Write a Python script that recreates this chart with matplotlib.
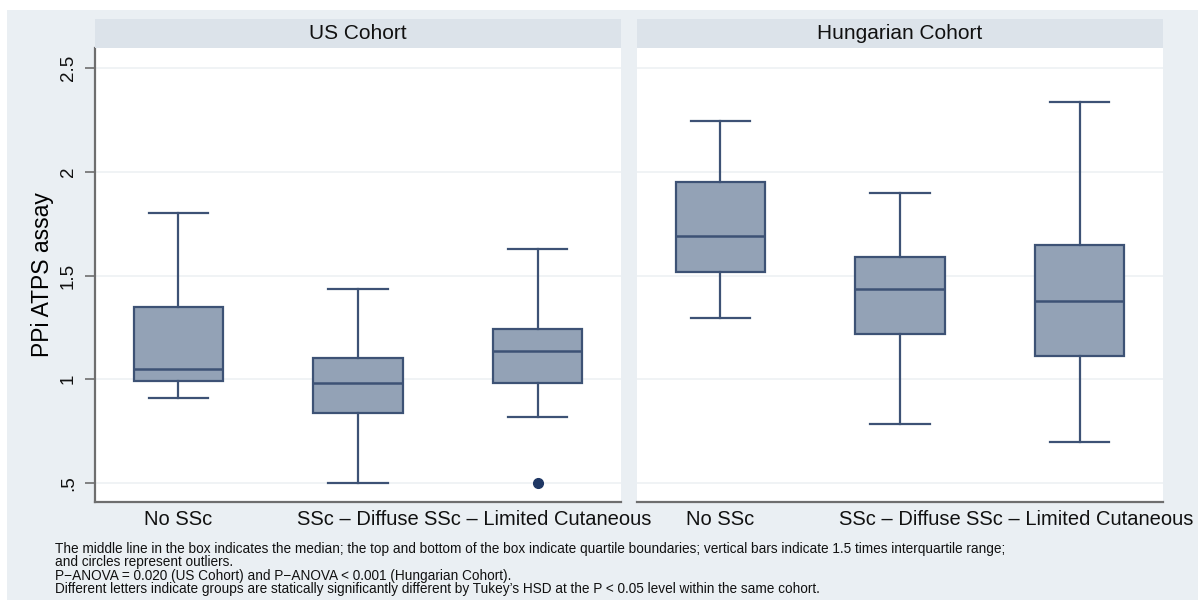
import matplotlib.pyplot as plt
from matplotlib.patches import Rectangle

plt.rcParams["font.family"] = ["Liberation Sans", "DejaVu Sans"]

# box summaries per cohort: median, quartiles, whisker ends, outliers
groups = ["No SSc", "SSc – Diffuse", "SSc – Limited Cutaneous"]
cohorts = ["US Cohort", "Hungarian Cohort"]

us_med = [1.05, 0.98, 1.137]
us_q1 = [0.99, 0.838, 0.983]
us_q3 = [1.35, 1.10, 1.244]
us_lo = [0.91, 0.50, 0.82]
us_hi = [1.80, 1.437, 1.63]
us_out = [[], [], [0.50]]

hu_med = [1.69, 1.435, 1.377]
hu_q1 = [1.517, 1.217, 1.11]
hu_q3 = [1.95, 1.59, 1.647]
hu_lo = [1.295, 0.785, 0.695]
hu_hi = [2.246, 1.90, 2.338]
hu_out = [[], [], []]

y_ticks = [0.5, 1, 1.5, 2, 2.5]
y_tick_labels = [".5", "1", "1.5", "2", "2.5"]

footnote = (
    "The middle line in the box indicates the median; the top and bottom of the box indicate "
    "quartile boundaries; vertical bars indicate 1.5 times interquartile range;\n"
    "and circles represent outliers.\n"
    "P\u2212ANOVA = 0.020 (US Cohort) and P\u2212ANOVA < 0.001 (Hungarian Cohort).\n"
    "Different letters indicate groups are statically significantly different by Tukey\u2019s HSD "
    "at the P < 0.05 level within the same cohort."
)

BG = "#eaeff3"
STRIP = "#dce3ea"
FILL = "#93a2b6"
EDGE = "#3d5275"
DOT = "#1f3764"
GRID = "#edf1f4"
SPINE = "#6e6e6e"

W, H = 1198, 610
fig = plt.figure(figsize=(W / 100, H / 100), dpi=100)
fig.patch.set_facecolor("white")
fig.patches.append(Rectangle((7 / W, 10 / H), (W - 7) / W, (H - 20) / H,
                             transform=fig.transFigure, facecolor=BG,
                             edgecolor="none", zorder=-10))


def px_box(x0, y_top, w, h):
    return [x0 / W, (H - y_top - h) / H, w / W, h / H]


def make_stats(med, q1, q3, lo, hi, out):
    return [dict(med=m, q1=a, q3=b, whislo=l, whishi=u, fliers=f)
            for m, a, b, l, u, f in zip(med, q1, q3, lo, hi, out)]


panels = [
    (95, make_stats(us_med, us_q1, us_q3, us_lo, us_hi, us_out)),
    (637, make_stats(hu_med, hu_q1, hu_q3, hu_lo, hu_hi, hu_out)),
]

for i, ((x0, stats), title) in enumerate(zip(panels, cohorts)):
    ax = fig.add_axes(px_box(x0, 48, 526, 454))
    ax.set_facecolor("white")
    ax.bxp(stats, positions=[1, 2, 3], widths=0.5, patch_artist=True,
           showfliers=True,
           boxprops=dict(facecolor=FILL, edgecolor=EDGE, linewidth=1.6),
           medianprops=dict(color=EDGE, linewidth=1.8),
           whiskerprops=dict(color=EDGE, linewidth=1.6),
           capprops=dict(color=EDGE, linewidth=1.6),
           capwidths=0.33,
           flierprops=dict(marker="o", markerfacecolor=DOT, markeredgecolor=DOT,
                           markersize=7))
    ax.set_xlim(0.535, 3.465)
    ax.set_ylim(0.408, 2.597)
    ax.set_yticks(y_ticks)
    ax.yaxis.grid(True, color=GRID, linewidth=1.2)
    ax.set_axisbelow(True)
    for s in ("top", "right"):
        ax.spines[s].set_visible(False)
    ax.spines["bottom"].set_color(SPINE)
    ax.spines["bottom"].set_linewidth(1.6)
    ax.set_xticks([1, 2, 3])
    ax.set_xticklabels(groups, fontsize=14.5)
    ax.tick_params(axis="x", length=0, pad=6, colors="#111111")
    if i == 0:
        ax.spines["left"].set_color(SPINE)
        ax.spines["left"].set_linewidth(1.6)
        ax.set_yticklabels(y_tick_labels, rotation=90, va="center", fontsize=13.5)
        ax.tick_params(axis="y", length=7, width=1.2, color=SPINE, pad=6,
                       labelcolor="#111111")
        ax.set_ylabel("PPi ATPS assay", fontsize=16.5, labelpad=4)
    else:
        ax.spines["left"].set_visible(False)
        ax.tick_params(axis="y", length=0, labelleft=False)

    strip = fig.add_axes(px_box(x0, 19, 526, 29))
    strip.set_facecolor(STRIP)
    strip.set_xticks([])
    strip.set_yticks([])
    for s in strip.spines.values():
        s.set_visible(False)
    strip.text(0.5, 0.5, title, ha="center", va="center", fontsize=15,
               color="#111111", transform=strip.transAxes)

fig.text(55 / W, 1 - 542 / H, footnote, ha="left", va="top", fontsize=9.8,
         color="#111111", linespacing=0.95)

fig.savefig("out.png", dpi=100, facecolor=fig.get_facecolor())
